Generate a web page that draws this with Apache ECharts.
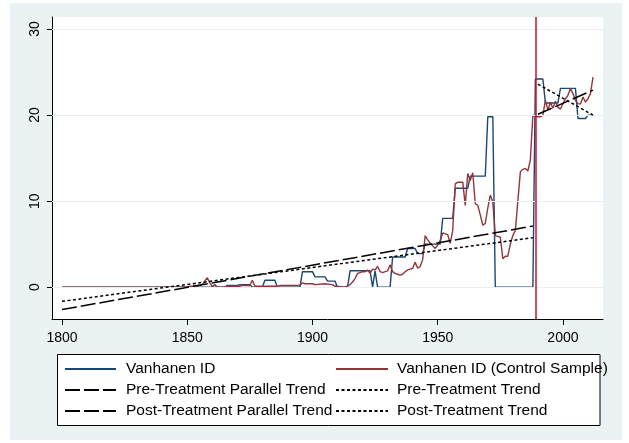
<!DOCTYPE html>
<html>
<head>
<meta charset="utf-8">
<script src="https://cdn.jsdelivr.net/npm/echarts@6/dist/echarts.min.js"></script>
<style>
html,body{margin:0;padding:0;background:#ffffff;}
#bg{position:absolute;left:10px;top:3px;width:612px;height:437px;background:#eaf2f3;}
#chart{position:absolute;left:0;top:0;width:629px;height:443px;}
</style>
</head>
<body>
<div id="bg"></div>
<div id="chart"></div>
<script>
// ---- data ----
const xTicks = [1800, 1850, 1900, 1950, 2000];
const yTicks = [0, 10, 20, 30];
const treatmentYear = 1989;

const blueYears = [1800,1855,1865,1866,1870,1871,1875,1876,1880,1881,1885,1886,1895,1896,1900,1901,1905,1906,1909,1910,1914,1915,1923,1924,1925,1926,1931,1932,1937,1938,1941,1942,1944,1945,1951,1952,1956,1957,1962,1963,1969,1970,1972,1973,1988,1989,1992,1993,1998,1999,2005,2006,2009,2010,2012];
const blueValues = [0,0,0,0.2,0.2,0.3,0.3,0,0,0.8,0.8,0,0,1.8,1.8,1.2,1.2,0.7,0.7,0,0,1.9,1.9,0,1.9,0,0,3.5,3.5,4.5,4.5,3.9,3.9,5.0,5.0,8.0,8.0,11.5,11.5,12.9,12.9,19.8,19.8,0,0,24.2,24.2,21.4,21.4,23.1,23.1,19.6,19.6,20.0,20.0];

const redYears = [1800,1850,1851,1852,1853,1854,1855,1856,1857,1858,1859,1860,1861,1862,1865,1866,1871,1872,1875,1876,1877,1886,1887,1895,1896,1897,1900,1901,1905,1908,1909,1913,1915,1916,1917,1918,1919,1920,1921,1922,1923,1924,1925,1926,1927,1928,1929,1930,1931,1932,1933,1934,1935,1936,1937,1938,1939,1940,1941,1942,1943,1944,1945,1946,1947,1948,1949,1950,1951,1952,1953,1954,1955,1956,1957,1958,1959,1960,1961,1962,1963,1964,1965,1966,1967,1968,1969,1970,1971,1972,1973,1974,1975,1976,1977,1978,1979,1980,1981,1982,1983,1984,1985,1986,1987,1988,1989,1990,1991,1992,1993,1994,1995,1996,1997,1998,1999,2000,2001,2002,2003,2004,2005,2006,2007,2008,2009,2010,2011,2012];
const redValues = [0,0,0.1,0.1,0.2,0.1,0.2,0.3,0.7,1.1,0.5,0.1,0.3,0,0,0.1,0.1,0.2,0.2,0.8,0.1,0.1,0.2,0.2,0.5,0.4,0.4,0.3,0.4,0.3,0.1,0,0.3,0.6,1.0,1.6,1.7,1.8,1.8,2.0,1.6,2.1,2.0,2.4,1.8,1.7,1.8,1.9,2.6,1.8,1.6,1.5,1.4,1.5,1.8,2.0,2.1,2.2,2.9,2.2,2.4,3.2,6.0,5.5,5.1,4.8,4.5,4.9,5.4,6.3,6.2,6.1,5.1,6.6,12.0,12.2,12.2,12.2,9.5,13.2,12.4,13.3,9.7,9.5,8.4,7.2,7.4,9.2,10.7,9.9,6.0,5.9,5.8,3.3,3.6,3.6,5.0,6.0,6.6,10.0,13.4,13.7,13.8,13.5,14.8,20.0,19.8,19.8,19.8,20.0,21.7,20.6,21.5,20.8,21.6,20.9,20.7,21.3,21.9,22.3,23.1,22.5,21.7,21.3,21.3,22.1,21.5,21.9,22.5,24.4];

const preParallelYears = [1800, 1988];
const preParallelValues = [-2.6, 7.1];
const preTrendYears = [1800, 1988];
const preTrendValues = [-1.65, 5.75];
const postParallelYears = [1990, 2012];
const postParallelValues = [20.1, 22.9];
const postTrendYears = [1990, 2012];
const postTrendValues = [23.6, 20.0];

const names = ['Vanhanen ID','Vanhanen ID (Control Sample)','Pre-Treatment Parallel Trend','Pre-Treatment Trend','Post-Treatment Parallel Trend','Post-Treatment Trend'];

// ---- build ----
function pairs(xs, ys){ return xs.map((x,i)=>[x, ys[i]]); }
const FONT = '"Liberation Sans", Arial, Helvetica, sans-serif';
const longDash = [15, 4];
const shortDash = [3, 2.5];

function lineSeries(name, data, color, width, type, z){
  return {
    name, type:'line', data, showSymbol:false, symbol:'none', z,
    lineStyle:{color, width, type},
    itemStyle:{color},
    emphasis:{disabled:true}, silent:true
  };
}

const hiddenSymbol = {color:'rgba(0,0,0,0)', borderColor:'rgba(0,0,0,0)', borderWidth:0, opacity:0};

const chart = echarts.init(document.getElementById('chart'), null, {renderer:'canvas'});
const option = {
  animation:false,
  backgroundColor:'transparent',
  grid:{left:52, right:26, top:17, bottom:124, show:true, backgroundColor:'#ffffff', borderWidth:0},
  xAxis:{
    type:'value', min:1796, max:2016,
    axisLine:{show:true, onZero:false, lineStyle:{color:'#000', width:1}},
    axisTick:{show:true, length:6, customValues:xTicks, lineStyle:{color:'#000'}},
    axisLabel:{customValues:xTicks, formatter:v=>String(v), color:'#000', fontSize:14, fontFamily:FONT, margin:12},
    splitLine:{show:false}
  },
  yAxis:{
    type:'value', min:-3.7, max:31.4,
    axisLine:{show:true, onZero:false, lineStyle:{color:'#000', width:1}},
    axisTick:{show:true, length:5, customValues:yTicks, lineStyle:{color:'#000'}},
    axisLabel:{customValues:yTicks, formatter:v=>String(v), rotate:90, color:'#000', fontSize:14, fontFamily:FONT, margin:10},
    splitLine:{show:false}
  },
  graphic:[{
    type:'rect', shape:{x:57.5, y:354.5, width:542.5, height:71},
    style:{fill:'#ffffff', stroke:'#000000', lineWidth:1}, z:0, silent:true
  }],
  legend:[
    {data:[names[0], names[2], names[4]], orient:'vertical', left:64, top:361, itemWidth:51, itemHeight:14, itemGap:5,
     selectedMode:false, padding:0, itemStyle:hiddenSymbol,
     textStyle:{fontSize:15.5, fontFamily:FONT, color:'#000', lineHeight:16, padding:[0,0,0,5]}},
    {data:[names[1], names[3], names[5]], orient:'vertical', left:335, top:361, itemWidth:52, itemHeight:14, itemGap:5,
     selectedMode:false, padding:0, itemStyle:hiddenSymbol,
     textStyle:{fontSize:15.5, fontFamily:FONT, color:'#000', lineHeight:16, padding:[0,0,0,4]}}
  ],
  series:[
    {
      type:'line', data:[], silent:true, z:1,
      markLine:{silent:true, symbol:['none','none'], label:{show:false}, animation:false,
        lineStyle:{color:'#e6eff1', width:1.2, type:'solid'},
        data: yTicks.map(v=>({yAxis:v}))}
    },
    lineSeries(names[0], pairs(blueYears, blueValues), '#1a476f', 1.4, 'solid', 3),
    lineSeries(names[1], pairs(redYears, redValues), '#90353b', 1.4, 'solid', 4),
    lineSeries(names[2], pairs(preParallelYears, preParallelValues), '#000000', 1.5, longDash, 5),
    lineSeries(names[3], pairs(preTrendYears, preTrendValues), '#000000', 1.5, shortDash, 5),
    lineSeries(names[4], pairs(postParallelYears, postParallelValues), '#000000', 1.5, longDash, 5),
    lineSeries(names[5], pairs(postTrendYears, postTrendValues), '#000000', 1.5, shortDash, 5),
    {
      type:'line', data:[], silent:true, z:6,
      markLine:{silent:true, symbol:['none','none'], label:{show:false}, animation:false,
        lineStyle:{color:'#c8102e', width:1.5, type:'solid'},
        data:[{xAxis:treatmentYear}]}
    }
  ]
};
chart.setOption(option);
</script>
</body>
</html>
